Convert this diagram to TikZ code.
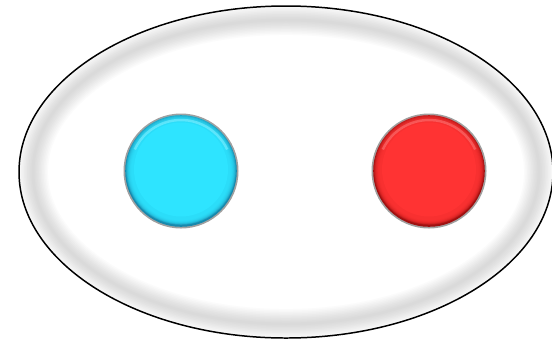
\documentclass[tikz,border=0pt]{standalone}
\usetikzlibrary{calc}
\definecolor{cyanmain}{HTML}{2EE4FF}
\definecolor{cyandark}{HTML}{1789AD}
\definecolor{cyanlight}{HTML}{7FEEFF}
\definecolor{redmain}{HTML}{FF3333}
\definecolor{reddark}{HTML}{A01010}
\definecolor{redlight}{HTML}{FF8A8A}
\definecolor{rimgray}{HTML}{A0A0A0}
\tikzset{
  glowband/.style={draw=black!60, draw opacity=0.022},
}
\newcommand{\mybutton}[3]{%
  % #1 center, #2 main, #3 dark
  \fill[rimgray] (#1) circle (57.5);
  \fill[#3] (#1) circle (55.8);
  \foreach \k in {0,...,7}{
    \fill[#2, opacity=0.3] ($(#1)+(0,-1.2+0.15*\k)$) circle ({55-\k*0.8});
  }
  \fill[#2] ($(#1)+(0,-1.5)$) circle (47);
}
\begin{document}
\begin{tikzpicture}[x=1bp,y=-1bp]
\useasboundingbox (0,0) rectangle (552,340);
\fill[white] (0,0) rectangle (552,340);
% soft inner glow of ellipse
\begin{scope}
  \clip (286,172) ellipse (266 and 165);
  \foreach \w in {3,6,...,30}{
    \draw[glowband, line width=\w] (286,172) ellipse ({267-14} and {166-14});
  }
\end{scope}
\draw[black, line width=1.5] (286,172) ellipse (267 and 166);
% buttons
\coordinate (bc) at (181,171);
\coordinate (rc) at (429,171);
\mybutton{bc}{cyanmain}{cyandark}
\mybutton{rc}{redmain}{reddark}
% top highlights (y axis points down, so angles 205..335 are at the top)
\draw[cyanlight, line width=2.5, opacity=0.6] ($(bc)+(205:51)$) arc (205:335:51);
\draw[redlight, line width=2.5, opacity=0.45] ($(rc)+(205:51)$) arc (205:335:51);
\node[circle, inner sep=0, minimum size=115bp] (blue) at (bc) {};
\node[circle, inner sep=0, minimum size=115bp] (red) at (rc) {};
\end{tikzpicture}
\end{document}
